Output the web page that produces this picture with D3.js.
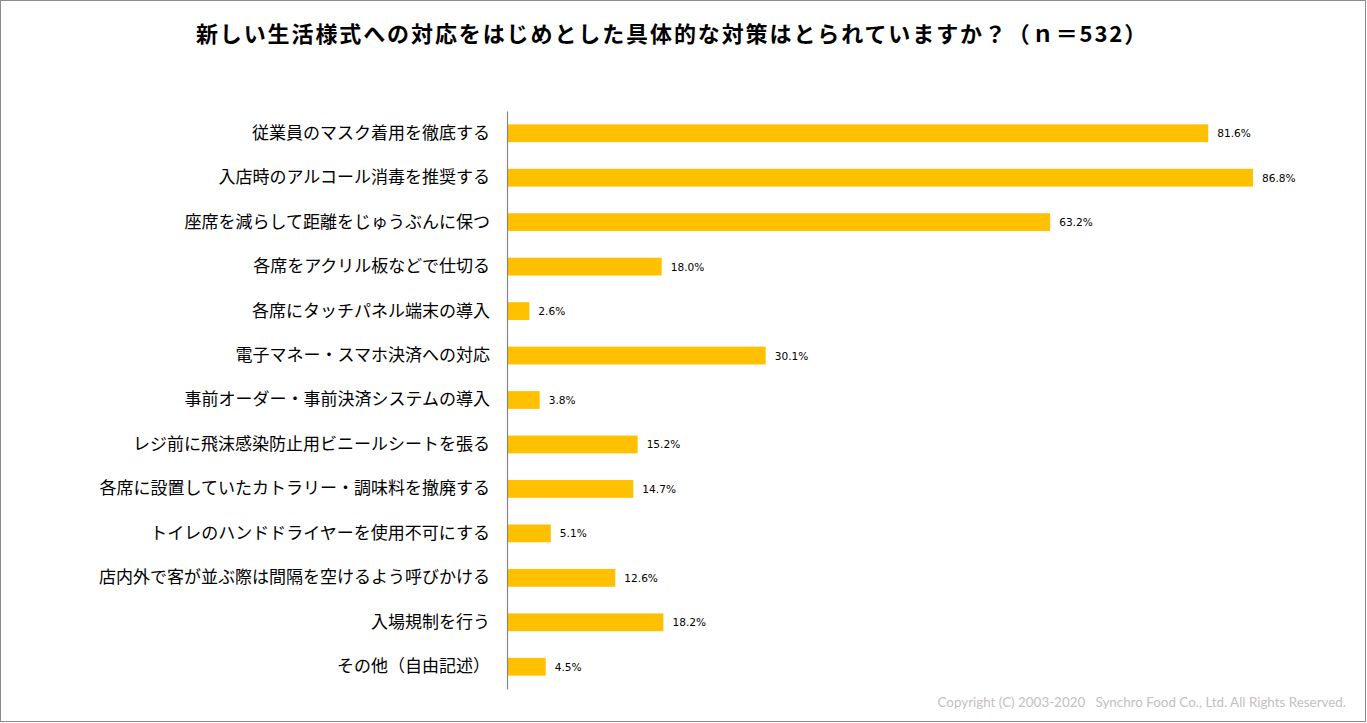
<!DOCTYPE html>
<html><head><meta charset="utf-8">
<script src="https://cdn.jsdelivr.net/npm/d3@7"></script>
<style>body{margin:0;background:#fff}svg{display:block}</style>
</head><body>
<script>
const categories = ["従業員のマスク着用を徹底する","入店時のアルコール消毒を推奨する","座席を減らして距離をじゅうぶんに保つ","各席をアクリル板などで仕切る","各席にタッチパネル端末の導入","電子マネー・スマホ決済への対応","事前オーダー・事前決済システムの導入","レジ前に飛沫感染防止用ビニールシートを張る","各席に設置していたカトラリー・調味料を撤廃する","トイレのハンドドライヤーを使用不可にする","店内外で客が並ぶ際は間隔を空けるよう呼びかける","入場規制を行う","その他（自由記述）"];
const values = [81.6,86.8,63.2,18.0,2.6,30.1,3.8,15.2,14.7,5.1,12.6,18.2,4.5];
const title = "新しい生活様式への対応をはじめとした具体的な対策はとられていますか？（ｎ＝532）";
const copyright = "Copyright (C) 2003-2020   Synchro Food Co., Ltd. All Rights Reserved.";

const W=1367,H=723;
const svg=d3.select("body").append("svg").attr("width",W).attr("height",H);
svg.append("rect").attr("x",0.5).attr("y",0.5).attr("width",W-2).attr("height",H-2).attr("fill","#fff").attr("stroke","#8c8c8c").attr("stroke-width",1);
const jp="'Noto Sans CJK JP','Noto Sans',sans-serif";
svg.append("text").attr("x",672).attr("y",42).attr("text-anchor","middle").attr("font-family",jp).attr("font-weight","bold").attr("font-size",22).attr("letter-spacing",1.9).attr("fill","#000").text(title);

const x=d3.scaleLinear().domain([0,100]).range([507,507+859.4]);
const y=d3.scaleBand().domain(categories).range([111,689]).paddingInner(0.6).paddingOuter(0.3);

svg.selectAll("rect.bar").data(values).enter().append("rect").attr("class","bar")
 .attr("x",x(0)).attr("y",(d,i)=>y(categories[i])).attr("width",d=>x(d)-x(0)).attr("height",y.bandwidth()).attr("fill","#FFC000");

svg.selectAll("text.val").data(values).enter().append("text").attr("class","val")
 .attr("x",d=>x(d)+9).attr("y",(d,i)=>y(categories[i])+y.bandwidth()/2).attr("dy","0.38em")
 .attr("font-family","'DejaVu Sans',sans-serif").attr("font-size",10.6).attr("fill","#000").text(d=>d.toFixed(1)+"%");

const ax=svg.append("g").attr("transform",`translate(${x(0)},0)`).call(d3.axisLeft(y).tickSize(0).tickPadding(17));
ax.select(".domain").attr("stroke","#868686").attr("stroke-width",1.2);
ax.selectAll("text").attr("font-family",jp).attr("font-size",17).attr("fill","#000");

svg.append("text").attr("x",1346).attr("y",707).attr("text-anchor","end").attr("font-family","Lato,'Open Sans',sans-serif").attr("font-size",13.4).attr("fill","#c4c0bc").attr("xml:space","preserve").text(copyright);
</script>
</body></html>
